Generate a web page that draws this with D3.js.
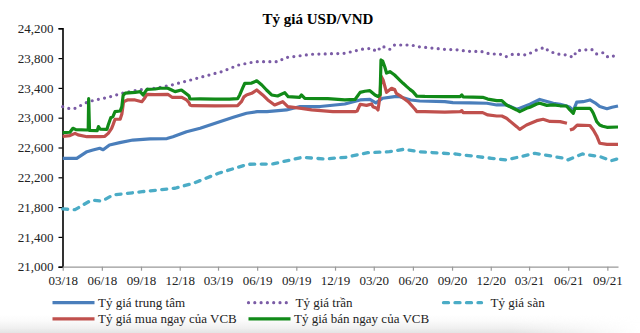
<!DOCTYPE html>
<html><head><meta charset="utf-8">
<script src="https://cdn.jsdelivr.net/npm/d3@7"></script>
<style>
html,body{margin:0;padding:0;background:#fff;}
svg{display:block;font-family:"Liberation Serif","Times New Roman",serif;}
</style>
</head><body>
<svg id="chart" width="640" height="333"></svg>
<script>
// ---------- DATA ----------
const chartTitle = "Tỷ giá USD/VND";
const yTickValues = [21000, 21400, 21800, 22200, 22600, 23000, 23400, 23800, 24200];
const xTickLabels = ["03/18","06/18","09/18","12/18","03/19","06/19","09/19","12/19","03/20","06/20","09/20","12/20","03/21","06/21","09/21"];
const dateStart = "2018-03-01";
const dateEnd = "2021-09-26";
const seriesNames = ["Tỷ giá trung tâm", "Tỷ giá trần", "Tỷ giá sàn", "Tỷ giá mua ngay của VCB", "Tỷ giá bán ngay của VCB"];

// Tỷ giá trung tâm
const centralRate = [
["2018-03-01",22455],["2018-04-03",22455],["2018-04-27",22544],["2018-05-11",22567],["2018-05-27",22590],
["2018-06-04",22570],["2018-06-19",22634],["2018-07-13",22665],["2018-08-13",22700],["2018-09-22",22715],
["2018-11-01",22720],["2018-11-15",22745],["2018-12-17",22812],["2019-01-18",22858],["2019-03-05",22947],
["2019-04-06",23006],["2019-05-07",23060],["2019-06-01",23081],["2019-06-24",23081],["2019-08-09",23104],
["2019-09-10",23150],["2019-10-27",23150],["2019-12-24",23184],["2020-01-29",23238],["2020-02-21",23247],
["2020-03-06",23200],["2020-03-22",23261],["2020-04-19",23282],["2020-05-01",23282],["2020-05-27",23238],
["2020-06-17",23224],["2020-08-15",23215],["2020-09-03",23202],["2020-10-13",23200],["2020-11-22",23194],
["2020-12-15",23171],["2021-01-07",23171],["2021-01-31",23113],["2021-02-07",23126],["2021-03-03",23180],
["2021-03-26",23245],["2021-04-27",23194],["2021-05-13",23180],["2021-05-28",23157],["2021-06-05",23140],
["2021-06-13",23095],["2021-06-21",23210],["2021-07-06",23215],["2021-07-22",23238],["2021-08-03",23200],
["2021-08-14",23150],["2021-08-31",23120],["2021-09-12",23140],["2021-09-26",23157]
];

// Tỷ giá trần
const ceilingRate = [
["2018-03-01",23148],["2018-03-18",23120],["2018-03-30",23126],["2018-04-30",23215],["2018-05-24",23247],
["2018-06-16",23274],["2018-07-18",23327],["2018-08-25",23372],["2018-10-04",23395],["2018-11-12",23439],
["2018-12-21",23497],["2019-01-30",23560],["2019-03-10",23618],["2019-04-18",23707],["2019-05-27",23752],
["2019-07-21",23752],["2019-08-05",23806],["2019-10-07",23851],["2019-12-24",23864],["2020-02-01",23918],
["2020-02-25",23931],["2020-03-08",23886],["2020-03-20",23962],["2020-04-08",23918],["2020-04-19",23976],
["2020-05-28",23976],["2020-06-13",23953],["2020-08-15",23918],["2020-09-12",23912],["2020-09-28",23899],
["2020-10-21",23886],["2020-11-05",23895],["2020-11-29",23855],["2020-12-22",23855],["2021-01-06",23819],
["2021-01-23",23855],["2021-02-23",23842],["2021-03-19",23909],["2021-04-07",23945],["2021-04-15",23899],
["2021-05-05",23855],["2021-05-28",23842],["2021-06-13",23810],["2021-06-21",23899],["2021-07-26",23918],
["2021-08-07",23855],["2021-08-22",23873],["2021-09-03",23810],["2021-09-26",23842]
];

// Tỷ giá sàn
const floorRate = [
["2018-03-01",21775],["2018-03-30",21766],["2018-05-07",21892],["2018-06-02",21882],["2018-06-27",21963],
["2018-09-04",22007],["2018-11-20",22053],["2019-01-02",22120],["2019-03-02",22254],["2019-05-10",22375],
["2019-07-08",22379],["2019-09-15",22469],["2019-11-05",22446],["2019-12-27",22469],["2020-02-16",22531],
["2020-04-07",22544],["2020-05-11",22576],["2020-06-14",22544],["2020-09-08",22513],["2020-12-03",22455],
["2021-01-06",22433],["2021-03-15",22522],["2021-05-23",22455],["2021-05-31",22433],["2021-07-04",22513],
["2021-08-15",22477],["2021-09-10",22423],["2021-09-26",22450]
];

// Tỷ giá mua ngay của VCB (null = gap)
const vcbBuy = [
["2018-03-01",22750],["2018-03-18",22760],["2018-03-30",22790],["2018-04-06",22770],["2018-04-27",22745],
["2018-05-27",22745],["2018-06-08",22750],["2018-06-16",22790],["2018-06-24",22858],["2018-06-27",22900],
["2018-07-02",22979],["2018-07-14",22980],["2018-07-18",23050],["2018-07-22",23215],["2018-07-31",23238],
["2018-08-18",23238],["2018-09-03",23215],["2018-09-08",23250],["2018-09-15",23314],["2018-10-04",23310],
["2018-11-03",23314],["2018-11-13",23274],["2018-12-06",23274],["2018-12-17",23238],["2018-12-23",23200],
["2018-12-25",23171],["2018-12-30",23161],["2019-02-22",23160],["2019-04-16",23161],["2019-04-25",23215],
["2019-05-01",23280],["2019-05-07",23305],["2019-05-19",23327],["2019-05-31",23372],["2019-06-14",23305],
["2019-06-26",23238],["2019-07-12",23171],["2019-07-31",23215],["2019-08-12",23148],["2019-09-13",23126],
["2019-10-07",23104],["2019-11-26",23081],["2020-01-17",23081],["2020-01-22",23090],["2020-01-29",23180],
["2020-02-13",23165],["2020-02-25",23185],["2020-02-28",23148],["2020-03-08",23126],["2020-03-11",23104],
["2020-03-16",23300],["2020-03-18",23560],["2020-03-23",23506],["2020-03-31",23340],["2020-04-12",23395],
["2020-04-19",23380],["2020-04-23",23327],["2020-05-05",23282],["2020-05-21",23215],["2020-06-06",23113],
["2020-06-10",23081],["2020-06-29",23081],["2020-08-15",23075],["2020-09-20",23081],["2020-09-24",23095],
["2020-09-27",23068],["2020-11-12",23068],["2020-11-24",23037],["2020-12-15",23023],["2020-12-27",23023],
["2021-01-07",22992],["2021-01-31",22880],["2021-02-07",22844],["2021-02-23",22902],["2021-03-19",22960],
["2021-04-03",22979],["2021-04-19",22950],["2021-05-13",22947],["2021-05-29",22925],["2021-06-01",null],
["2021-06-05",22835],["2021-06-13",22850],["2021-06-22",22900],["2021-07-22",22895],["2021-07-30",22835],
["2021-08-07",22755],["2021-08-14",22657],["2021-08-31",22643],["2021-09-26",22643]
];

// Tỷ giá bán ngay của VCB
const vcbSell = [
["2018-03-01",22800],["2018-03-18",22805],["2018-03-25",22858],["2018-04-01",22840],["2018-04-27",22835],
["2018-04-30",22835],["2018-05-01",23255],["2018-05-03",22830],["2018-05-21",22826],["2018-05-24",22880],
["2018-05-28",22845],["2018-06-13",22844],["2018-06-16",22902],["2018-06-22",23000],["2018-06-27",23014],
["2018-07-02",23081],["2018-07-14",23090],["2018-07-18",23148],["2018-07-21",23300],["2018-07-26",23330],
["2018-08-18",23341],["2018-08-30",23350],["2018-09-06",23305],["2018-09-15",23381],["2018-10-04",23385],
["2018-10-16",23395],["2018-11-03",23395],["2018-11-12",23372],["2018-11-20",23350],["2018-12-05",23372],
["2018-12-18",23314],["2018-12-23",23290],["2018-12-25",23251],["2018-12-30",23251],["2019-01-18",23252],
["2019-02-22",23250],["2019-03-28",23250],["2019-04-16",23255],["2019-04-21",23305],["2019-04-28",23400],
["2019-05-03",23462],["2019-05-19",23465],["2019-05-31",23495],["2019-06-12",23439],["2019-06-23",23372],
["2019-07-05",23305],["2019-07-19",23291],["2019-08-05",23336],["2019-08-13",23282],["2019-09-09",23274],
["2019-09-13",23305],["2019-09-21",23260],["2019-11-14",23255],["2019-12-24",23238],["2020-01-17",23245],
["2020-01-29",23340],["2020-02-09",23355],["2020-02-21",23363],["2020-03-04",23305],["2020-03-11",23285],
["2020-03-16",23310],["2020-03-18",23775],["2020-03-22",23760],["2020-03-27",23680],["2020-03-31",23600],
["2020-04-08",23618],["2020-04-15",23590],["2020-04-19",23573],["2020-04-27",23529],["2020-05-01",23506],
["2020-05-09",23462],["2020-05-17",23420],["2020-05-25",23380],["2020-06-01",23350],["2020-06-10",23290],
["2020-06-29",23285],["2020-08-15",23282],["2020-09-20",23282],["2020-09-24",23305],["2020-09-27",23280],
["2020-11-12",23274],["2020-11-24",23250],["2020-12-15",23229],["2020-12-27",23229],["2021-01-07",23171],
["2021-01-31",23104],["2021-02-07",23081],["2021-02-23",23126],["2021-03-03",23140],["2021-03-19",23184],
["2021-03-26",23194],["2021-04-12",23165],["2021-04-27",23171],["2021-05-13",23160],["2021-05-28",23157],
["2021-06-05",23104],["2021-06-13",23059],["2021-06-17",23126],["2021-07-14",23126],["2021-07-22",23126],
["2021-07-26",23100],["2021-07-30",23060],["2021-08-07",22947],["2021-08-14",22902],["2021-08-21",22885],
["2021-08-31",22871],["2021-09-26",22875]
];

// ---------- CHART ----------
const parse = d3.timeParse("%Y-%m-%d");
const parseTick = d3.timeParse("%m/%y");
const svg = d3.select("#chart");

// subtle bottom shading as in the reference picture
const defs = svg.append("defs");
const gv = defs.append("linearGradient").attr("id", "shadeV").attr("x1", 0).attr("y1", 0).attr("x2", 0).attr("y2", 1);
gv.append("stop").attr("offset", "0%").attr("stop-color", "#fff").attr("stop-opacity", 0);
gv.append("stop").attr("offset", "100%").attr("stop-color", "#e4e4e4").attr("stop-opacity", 1);
const gh = defs.append("linearGradient").attr("id", "shadeH").attr("x1", 0).attr("y1", 0).attr("x2", 1).attr("y2", 0);
gh.append("stop").attr("offset", "0%").attr("stop-color", "#fff").attr("stop-opacity", 1);
gh.append("stop").attr("offset", "80%").attr("stop-color", "#fff").attr("stop-opacity", 1);
gh.append("stop").attr("offset", "100%").attr("stop-color", "#fff").attr("stop-opacity", 0);
const mask = defs.append("mask").attr("id", "shadeMask");
mask.append("rect").attr("x", 0).attr("y", 312).attr("width", 640).attr("height", 21).attr("fill", "url(#shadeH)");
svg.append("rect").attr("x", 0).attr("y", 312).attr("width", 640).attr("height", 21)
  .attr("fill", "url(#shadeV)").attr("mask", "url(#shadeMask)");

const x = d3.scaleTime().domain([parse(dateStart), parse(dateEnd)]).range([62.7, 618]);
const y = d3.scaleLinear().domain([21000, 24200]).range([266.7, 28.3]);

const styles = [
  {data: centralRate, color: "#4a7ebb", width: 3.2, dash: null, cap: "butt"},
  {data: ceilingRate, color: "#7b5ca6", width: 3.2, dash: "0 6.3", cap: "round"},
  {data: floorRate, color: "#4bacc6", width: 3.3, dash: "5 6.5", cap: "round"},
  {data: vcbBuy, color: "#c0504d", width: 3.2, dash: null, cap: "butt"},
  {data: vcbSell, color: "#118a18", width: 3.2, dash: null, cap: "butt"}
];

// Title
svg.append("text").attr("x", 318).attr("y", 23.5).attr("text-anchor", "middle")
  .attr("font-size", 15).attr("font-weight", "bold").attr("fill", "#000").text(chartTitle);

// Y axis
const yAxis = d3.axisLeft(y).tickValues(yTickValues).tickFormat(d3.format(",")).tickSize(4).tickPadding(5);
const gy = svg.append("g").attr("transform", "translate(62.5,0)").call(yAxis);
gy.select(".domain").attr("stroke", "#000").attr("stroke-width", 1.6);
gy.selectAll(".tick line").attr("stroke", "#000").attr("stroke-width", 1.2);
gy.selectAll(".tick text").attr("font-size", 13).attr("fill", "#222")
  .attr("font-family", "'Liberation Serif','Times New Roman',serif");

// X axis
const xAxis = d3.axisBottom(x).tickValues(xTickLabels.map(parseTick))
  .tickFormat((d, i) => xTickLabels[i]).tickSize(4).tickSizeOuter(0).tickPadding(5);
const gx = svg.append("g").attr("transform", "translate(0,266.7)").call(xAxis);
gx.select(".domain").attr("stroke", "#999").attr("stroke-width", 1.3);
gx.selectAll(".tick line").attr("stroke", "#999").attr("stroke-width", 1.2);
gx.selectAll(".tick text").attr("font-size", 13).attr("fill", "#222")
  .attr("font-family", "'Liberation Serif','Times New Roman',serif");

// Lines
const line = d3.line().defined(d => d[1] != null)
  .x(d => x(parse(d[0]))).y(d => y(d[1]));
styles.forEach(s => {
  svg.append("path").datum(s.data).attr("d", line)
    .attr("fill", "none").attr("stroke", s.color).attr("stroke-width", s.width)
    .attr("stroke-linejoin", "round").attr("stroke-linecap", s.cap)
    .attr("stroke-dasharray", s.dash);
});

// Legend
const legendPos = [
  {lx: 52.5, ly: 302.7, len: 42}, {lx: 248.5, ly: 302.7, len: 38}, {lx: 443.5, ly: 302.7, len: 38},
  {lx: 52.5, ly: 318.8, len: 42}, {lx: 248.5, ly: 318.8, len: 42}
];
seriesNames.forEach((name, i) => {
  const p = legendPos[i], s = styles[i];
  const g = svg.append("g");
  g.append("line").attr("x1", p.lx).attr("x2", p.lx + p.len).attr("y1", p.ly).attr("y2", p.ly)
    .attr("stroke", s.color).attr("stroke-width", s.width).attr("stroke-linecap", s.cap)
    .attr("stroke-dasharray", s.dash);
  g.append("text").attr("x", (i === 1 || i === 2) ? p.lx + 47 : p.lx + p.len + 3.5).attr("y", p.ly + 4.3)
    .attr("font-size", 13).attr("fill", "#222").text(name);
});
</script>
</body></html>
